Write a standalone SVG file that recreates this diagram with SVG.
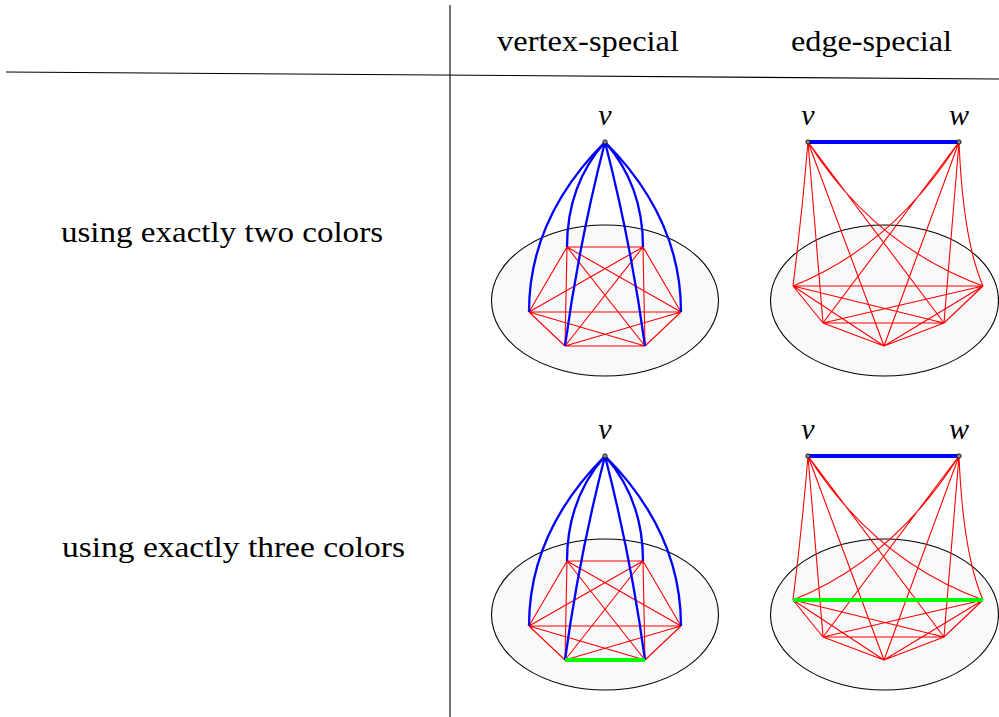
<svg xmlns="http://www.w3.org/2000/svg" width="999" height="717" viewBox="0 0 999 717">
<defs>
<g id="hexK6">
<path stroke="#ff0000" stroke-width="1.1" fill="none" d="M567,247L643,247M567,247L529,312M567,247L681,312M567,247L565,346M567,247L645,346M643,247L529,312M643,247L681,312M643,247L565,346M643,247L645,346M529,312L681,312M529,312L565,346M529,312L645,346M681,312L565,346M681,312L645,346M565,346L645,346"/>
</g>
<g id="vcurves">
<path stroke="#0000ff" stroke-width="2.3" fill="none" d="M605,142Q529,218 529,312M605,142Q681,218 681,312M605,142Q567,185 567,247M605,142Q643,185 643,247M605,142Q579,243 565,346M605,142Q631,243 645,346"/>
</g>
<g id="pentK5">
<path stroke="#ff0000" stroke-width="1.1" fill="none" d="M793,286L983,286M793,286L823,323M793,286L944,323M793,286L884,346M983,286L823,323M983,286L944,323M983,286L884,346M823,323L944,323M823,323L884,346M944,323L884,346"/>
</g>
<g id="vwlinks">
<path stroke="#ff0000" stroke-width="1.1" fill="none" d="M808,142Q802,215 793,286M808,142L823,323M808,142L884,346M808,142L944,323M808,142Q874,246 983,286M959,142Q963,240 983,286M959,142L944,323M959,142L884,346M959,142L823,323M959,142Q893,246 793,286"/>
</g>
<ellipse id="blobV" cx="605" cy="300.5" rx="113.5" ry="75.5" fill="#f9f9f9" stroke="#000" stroke-width="1.1"/>
<ellipse id="blobE" cx="884.5" cy="300.5" rx="114" ry="75.5" fill="#f9f9f9" stroke="#000" stroke-width="1.1"/>
<circle id="dot" r="2.2" fill="#888" stroke="#000" stroke-width="0.8"/>
</defs>

<g id="table-rules" stroke="#000" stroke-width="1.1">
<line x1="450" y1="5" x2="450" y2="717"/>
<line x1="6" y1="72" x2="999" y2="79"/>
</g>

<g id="header-vertex-special"><text font-family="Times New Roman, Liberation Serif, serif" font-size="30" x="497" y="51" textLength="182" lengthAdjust="spacingAndGlyphs">vertex-special</text></g>
<g id="header-edge-special"><text font-family="Times New Roman, Liberation Serif, serif" font-size="30" x="791" y="51" textLength="161" lengthAdjust="spacingAndGlyphs">edge-special</text></g>
<g id="row-two"><text font-family="Times New Roman, Liberation Serif, serif" font-size="30" x="61" y="242" textLength="322" lengthAdjust="spacingAndGlyphs">using exactly two colors</text></g>
<g id="row-three"><text font-family="Times New Roman, Liberation Serif, serif" font-size="30" x="62" y="557" textLength="343" lengthAdjust="spacingAndGlyphs">using exactly three colors</text></g>

<g id="fig-vertex-two">
<use href="#blobV"/>
<g id="connectors-vertex-two">
<use href="#hexK6"/>
<use href="#vcurves"/>
</g>
<g id="node-v1"><use href="#dot" x="605" y="142"/><text font-family="Times New Roman, Liberation Serif, serif" font-style="italic" font-size="30" text-anchor="middle" x="605" y="125">v</text></g>
</g>

<g id="fig-edge-two">
<use href="#blobE"/>
<g id="connectors-edge-two">
<use href="#pentK5"/>
<use href="#vwlinks"/>
<line stroke="#0000ff" stroke-width="4" x1="808" y1="142" x2="959" y2="142"/>
</g>
<g id="node-v2"><use href="#dot" x="808" y="142"/><text font-family="Times New Roman, Liberation Serif, serif" font-style="italic" font-size="30" text-anchor="middle" x="808" y="125">v</text></g>
<g id="node-w2"><use href="#dot" x="959" y="142"/><text font-family="Times New Roman, Liberation Serif, serif" font-style="italic" font-size="30" text-anchor="middle" x="959" y="125">w</text></g>
</g>

<g id="fig-vertex-three" transform="translate(0,314)">
<use href="#blobV"/>
<g id="connectors-vertex-three">
<use href="#hexK6"/>
<use href="#vcurves"/>
<line stroke="#00ff00" stroke-width="4" x1="565" y1="346" x2="645" y2="346"/>
</g>
<g id="node-v3"><use href="#dot" x="605" y="142"/><text font-family="Times New Roman, Liberation Serif, serif" font-style="italic" font-size="30" text-anchor="middle" x="605" y="125">v</text></g>
</g>

<g id="fig-edge-three" transform="translate(0,314)">
<use href="#blobE"/>
<g id="connectors-edge-three">
<use href="#pentK5"/>
<use href="#vwlinks"/>
<line stroke="#0000ff" stroke-width="4" x1="808" y1="142" x2="959" y2="142"/>
<line stroke="#00ff00" stroke-width="4" x1="793" y1="286" x2="983" y2="286"/>
</g>
<g id="node-v4"><use href="#dot" x="808" y="142"/><text font-family="Times New Roman, Liberation Serif, serif" font-style="italic" font-size="30" text-anchor="middle" x="808" y="125">v</text></g>
<g id="node-w4"><use href="#dot" x="959" y="142"/><text font-family="Times New Roman, Liberation Serif, serif" font-style="italic" font-size="30" text-anchor="middle" x="959" y="125">w</text></g>
</g>
</svg>
